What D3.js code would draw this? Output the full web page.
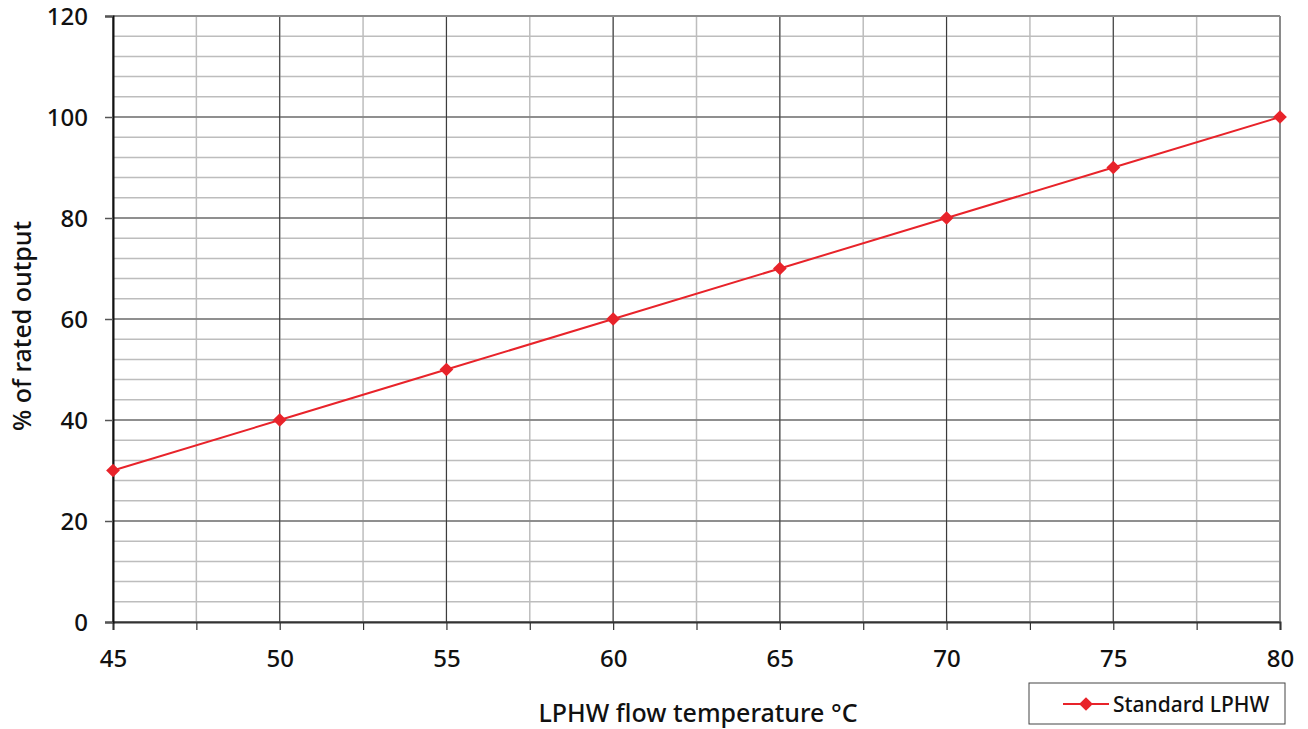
<!DOCTYPE html>
<html>
<head>
<meta charset="utf-8">
<script src="https://cdn.jsdelivr.net/npm/d3@7"></script>
<style>
  body { margin: 0; background: #fff; }
  text { font-family: "Noto Sans", sans-serif; fill: #111; }
</style>
</head>
<body>
<svg width="1308" height="729"></svg>
<script>
var temps = [45, 50, 55, 60, 65, 70, 75, 80];
var output = [30, 40, 50, 60, 70, 80, 90, 100];
var xTicks = [45, 50, 55, 60, 65, 70, 75, 80];
var yTicks = [0, 20, 40, 60, 80, 100, 120];
var seriesName = 'Standard LPHW';

var svg = d3.select('svg');
var pLeft = 113, pRight = 1280, pTop = 16, pBottom = 622;

var x = d3.scaleLinear().domain([45, 80]).range([pLeft, pRight]);
var y = d3.scaleLinear().domain([0, 120]).range([pBottom, pTop]);

// minor grid
var minorX = d3.range(45, 80.01, 2.5);
var minorY = d3.range(0, 120.01, 4);

svg.append('g').selectAll('line')
    .data(minorY).enter()
    .append('line')
    .attr('x1', pLeft).attr('x2', pRight)
    .attr('y1', function(d){ return y(d); })
    .attr('y2', function(d){ return y(d); })
    .attr('stroke', '#bdbdbd').attr('stroke-width', 1.5);

svg.append('g').selectAll('line')
    .data(minorX).enter()
    .append('line')
    .attr('x1', function(d){ return x(d); })
    .attr('x2', function(d){ return x(d); })
    .attr('y1', pTop).attr('y2', pBottom)
    .attr('stroke', '#bdbdbd').attr('stroke-width', 1.5);

// major grid
svg.append('g').selectAll('line')
    .data(yTicks).enter()
    .append('line')
    .attr('x1', pLeft).attr('x2', pRight)
    .attr('y1', function(d){ return y(d); })
    .attr('y2', function(d){ return y(d); })
    .attr('stroke', '#7a7a7a').attr('stroke-width', 1.5);

svg.append('g').selectAll('line')
    .data(xTicks).enter()
    .append('line')
    .attr('x1', function(d){ return x(d); })
    .attr('x2', function(d){ return x(d); })
    .attr('y1', pTop).attr('y2', pBottom)
    .attr('stroke', '#333').attr('stroke-width', 1);

// border right/top
svg.append('line').attr('x1', pRight).attr('x2', pRight).attr('y1', pTop).attr('y2', pBottom)
    .attr('stroke', '#8a8a8a').attr('stroke-width', 2);
svg.append('line').attr('x1', pLeft).attr('x2', pRight).attr('y1', pTop).attr('y2', pTop)
    .attr('stroke', '#8a8a8a').attr('stroke-width', 2);

// axes
var xAxis = svg.append('g')
    .attr('transform', 'translate(0,' + pBottom + ')')
    .call(d3.axisBottom(x).tickValues(minorX).tickSize(8).tickFormat(function(d){
        return xTicks.indexOf(d) >= 0 ? d : '';
    }));
xAxis.select('.domain').attr('stroke', '#333').attr('stroke-width', 2);
xAxis.selectAll('.tick line').attr('stroke', '#333').attr('stroke-width', 1.2);
xAxis.selectAll('text').attr('font-size', 24).attr('font-weight', 500)
    .attr('y', 45).attr('dy', 0).attr('fill', '#111');

var yAxis = svg.append('g')
    .attr('transform', 'translate(' + pLeft + ',0)')
    .call(d3.axisLeft(y).tickValues(yTicks).tickSize(8));
yAxis.select('.domain').attr('stroke', '#111').attr('stroke-width', 2);
yAxis.selectAll('.tick line').attr('stroke', '#555').attr('stroke-width', 1.5);
yAxis.selectAll('text').attr('font-size', 24).attr('font-weight', 500)
    .attr('x', -25).attr('dy', '0.36em').attr('fill', '#111');

// series
var pts = temps.map(function(t, i){ return {t: t, v: output[i]}; });
var line = d3.line().x(function(d){ return x(d.t); }).y(function(d){ return y(d.v); });

svg.append('path').datum(pts)
    .attr('d', line)
    .attr('fill', 'none')
    .attr('stroke', '#e8232a')
    .attr('stroke-width', 2);

var diamond = d3.symbol().type(d3.symbolDiamond2).size(120);
svg.append('g').selectAll('path')
    .data(pts).enter()
    .append('path')
    .attr('d', diamond)
    .attr('transform', function(d){ return 'translate(' + x(d.t) + ',' + y(d.v) + ')'; })
    .attr('fill', '#e8232a');

// titles
svg.append('text')
    .attr('x', 698).attr('y', 722)
    .attr('text-anchor', 'middle')
    .attr('font-size', 25).attr('font-weight', 500)
    .text('LPHW flow temperature °C');

svg.append('text')
    .attr('transform', 'translate(31,326) rotate(-90)')
    .attr('text-anchor', 'middle')
    .attr('font-size', 25).attr('font-weight', 500)
    .text('% of rated output');

// legend
var lg = svg.append('g').attr('transform', 'translate(1029,683)');
lg.append('rect').attr('width', 256).attr('height', 41)
    .attr('fill', '#fff').attr('stroke', '#444').attr('stroke-width', 1);
lg.append('line').attr('x1', 34).attr('x2', 80).attr('y1', 21).attr('y2', 21)
    .attr('stroke', '#e8232a').attr('stroke-width', 2);
lg.append('path').attr('d', diamond).attr('transform', 'translate(57,21)').attr('fill', '#e8232a');
lg.append('text').attr('x', 84).attr('y', 29).attr('font-size', 21).attr('font-weight', 500).text(seriesName);
</script>
</body>
</html>
